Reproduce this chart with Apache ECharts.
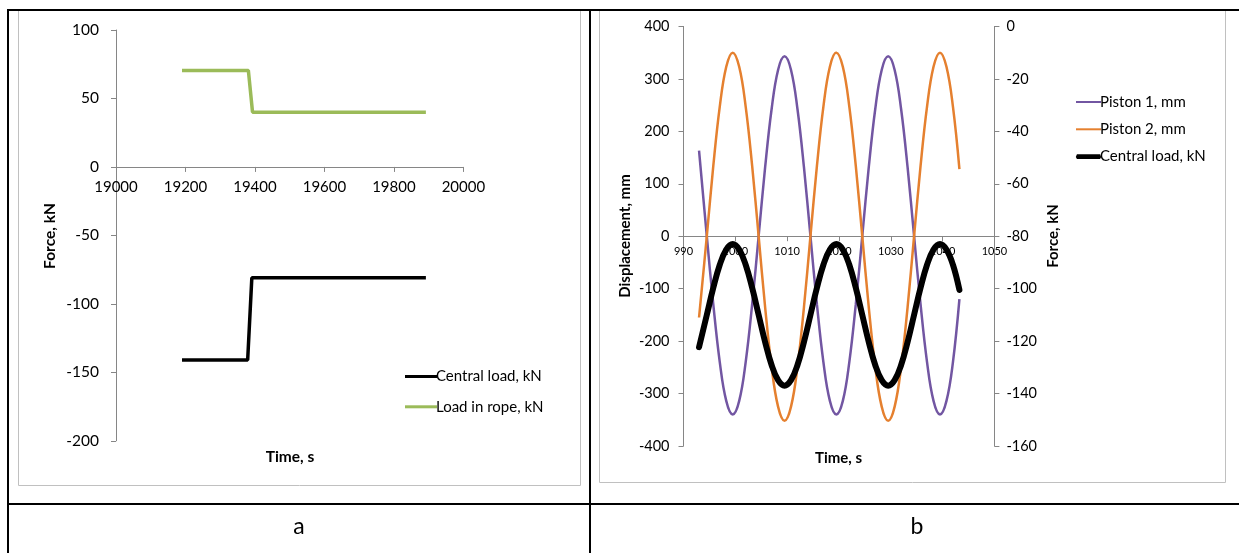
<!DOCTYPE html>
<html><head><meta charset="utf-8">
<script src="https://cdn.jsdelivr.net/npm/echarts@6/dist/echarts.min.js"></script>
<style>html,body{margin:0;padding:0;background:#fff;}#c{width:1239px;height:553px;}</style>
</head><body><div id="c"></div>
<script>
// ---- Panel a data ----
const ropeTime = [19190, 19381, 19393, 19892];
const ropeLoad = [70.5, 70.5, 40, 40];
const centralTimeA = [19190, 19379, 19391, 19892];
const centralLoadA = [-141, -141, -81, -81];

// ---- Panel b data ----
const bTime = [993, 994.5, 995.75, 997, 998.25, 999.5, 1000.75, 1002, 1003.25, 1004.5, 1005.75, 1007, 1008.25, 1009.5, 1010.75, 1012,
  1013.25, 1014.5, 1015.75, 1017, 1018.25, 1019.5, 1020.75, 1022, 1023.25, 1024.5, 1025.75, 1027, 1028.25, 1029.5, 1030.75, 1032,
  1033.25, 1034.5, 1035.75, 1037, 1038.25, 1039.5, 1040.75, 1042, 1043.25];
const piston1 = [163, 0, -130, -240, -314, -340, -314, -240, -130, 0, 131, 242, 317, 343, 317, 242, 131,
  0, -130, -240, -314, -340, -314, -240, -130, 0, 131, 242, 317, 343, 317, 242, 131,
  0, -130, -240, -314, -340, -314, -240, -120];
const piston2 = [-155, 0, 134, 247, 323, 350, 323, 247, 134, 0, -135, -249, -325, -352, -325, -249, -135,
  0, 134, 247, 323, 350, 323, 247, 134, 0, -135, -249, -325, -352, -325, -249, -135,
  0, 134, 247, 323, 350, 323, 247, 128];
const centralLoadB = [-122.3, -110, -99.7, -90.9, -85.1, -83, -85.1, -90.9, -99.7, -110, -120.3, -129.1, -134.9, -137, -134.9, -129.1, -120.3,
  -110, -99.7, -90.9, -85.1, -83, -85.1, -90.9, -99.7, -110, -120.3, -129.1, -134.9, -137, -134.9, -129.1, -120.3,
  -110, -99.7, -90.9, -85.1, -83, -85.1, -90.9, -100.5];

const zip = (xs, ys) => xs.map((x, i) => [x, ys[i]]);
const FONT = 'Lato';
const axisGray = '#868686';
const plain = v => String(v);

const chart = echarts.init(document.getElementById('c'), null, {renderer: 'canvas'});

const blackLine = (x1, y1, x2, y2) => ({type: 'line', shape: {x1, y1, x2, y2}, style: {stroke: '#000', lineWidth: 2}, z: 100});

// grid geometry
const gA = {left: 116, top: 30, width: 347.4, height: 410.8};
const gB = {left: 683.5, top: 26.4, width: 310.9, height: 419.6};

const option = {
  animation: false,
  textStyle: {fontFamily: FONT},
  grid: [
    Object.assign({containLabel: false}, gA),
    Object.assign({containLabel: false}, gB)
  ],
  xAxis: [
    {type: 'value', gridIndex: 0, min: 19000, max: 20000, interval: 200, position: 'bottom',
      offset: -(gA.height * 200 / 300),
      axisLine: {onZero: false, lineStyle: {color: axisGray}},
      axisTick: {show: true, length: 5, lineStyle: {color: axisGray}},
      axisLabel: {color: '#000', fontSize: 15, fontFamily: FONT, margin: 13, formatter: plain},
      splitLine: {show: false}},
    {type: 'value', gridIndex: 1, min: 990, max: 1050, interval: 10, position: 'bottom',
      offset: -(gB.height / 2),
      axisLine: {onZero: false, lineStyle: {color: axisGray}},
      axisTick: {show: true, length: 5, lineStyle: {color: axisGray}},
      axisLabel: {color: '#000', fontSize: 11, fontFamily: FONT, margin: 10, formatter: plain},
      splitLine: {show: false}}
  ],
  yAxis: [
    {type: 'value', gridIndex: 0, min: -200, max: 100, interval: 50,
      axisLine: {show: true, onZero: false, lineStyle: {color: axisGray}},
      axisTick: {show: true, length: 5, lineStyle: {color: axisGray}},
      axisLabel: {color: '#000', fontSize: 15.5, fontFamily: FONT, margin: 17, formatter: plain},
      splitLine: {show: false}},
    {type: 'value', gridIndex: 1, min: -400, max: 400, interval: 100, position: 'left',
      axisLine: {show: true, onZero: false, lineStyle: {color: axisGray}},
      axisTick: {show: true, length: 5, lineStyle: {color: axisGray}},
      axisLabel: {color: '#000', fontSize: 14.5, fontFamily: FONT, margin: 14, formatter: plain},
      splitLine: {show: false}},
    {type: 'value', gridIndex: 1, min: -160, max: 0, interval: 20, position: 'right',
      axisLine: {show: true, onZero: false, lineStyle: {color: axisGray}},
      axisTick: {show: true, length: 5, lineStyle: {color: axisGray}},
      axisLabel: {color: '#000', fontSize: 14.5, fontFamily: FONT, margin: 12, formatter: plain},
      splitLine: {show: false}}
  ],
  legend: [
    {orient: 'vertical', left: 400, top: 364, itemWidth: 32, itemHeight: 14, itemGap: 15.3,
      data: ['Central load, kN', 'Load in rope, kN'],
      textStyle: {fontFamily: FONT, fontSize: 15, color: '#000', padding: [0, 0, 0, -6]},
      icon: 'path://M0,6 L32,6 L32,9 L0,9 Z'},
    {orient: 'vertical', left: 1071, top: 89.5, itemWidth: 25, itemHeight: 14, itemGap: 12.3,
      data: [
        {name: 'Piston 1, mm', icon: 'path://M0,6.8 L25,6.8 L25,8.8 L0,8.8 Z'},
        {name: 'Piston 2, mm', icon: 'path://M0,6.8 L25,6.8 L25,8.8 L0,8.8 Z'},
        {name: 'Central load, kN ', icon: 'path://M0,5 L25,5 Q27,7.5 25,10 L0,10 Q-2,7.5 0,5 Z'}
      ],
      textStyle: {fontFamily: FONT, fontSize: 15, color: '#000', padding: [0, 0, 0, -6]}}
  ],
  series: [
    {name: 'Central load, kN', type: 'line', xAxisIndex: 0, yAxisIndex: 0, data: zip(centralTimeA, centralLoadA),
      showSymbol: false, symbol: 'none', color: '#000', lineStyle: {width: 3.5, color: '#000'}},
    {name: 'Load in rope, kN', type: 'line', xAxisIndex: 0, yAxisIndex: 0, data: zip(ropeTime, ropeLoad),
      showSymbol: false, symbol: 'none', color: '#9BBB59', lineStyle: {width: 3.5, color: '#9BBB59'}},
    {name: 'Piston 1, mm', type: 'line', xAxisIndex: 1, yAxisIndex: 1, data: zip(bTime, piston1), smooth: 0.4,
      showSymbol: false, symbol: 'none', color: '#7256A2', lineStyle: {width: 2.5, color: '#7256A2'}},
    {name: 'Piston 2, mm', type: 'line', xAxisIndex: 1, yAxisIndex: 1, data: zip(bTime, piston2), smooth: 0.4,
      showSymbol: false, symbol: 'none', color: '#E5802F', lineStyle: {width: 2.5, color: '#E5802F'}},
    {name: 'Central load, kN ', type: 'line', xAxisIndex: 1, yAxisIndex: 2, data: zip(bTime, centralLoadB), smooth: 0.4,
      showSymbol: false, symbol: 'none', color: '#000', lineStyle: {width: 6, color: '#000', cap: 'round'}}
  ],
  graphic: [
    {type: 'rect', shape: {x: 18.5, y: 10.5, width: 562, height: 475}, style: {fill: 'none', stroke: '#C0C0C0', lineWidth: 1}, z: -10},
    {type: 'rect', shape: {x: 599.5, y: 10.5, width: 626, height: 472}, style: {fill: 'none', stroke: '#C0C0C0', lineWidth: 1}, z: -10},
    blackLine(8, 10, 1239, 10),
    blackLine(8, 9, 8, 553),
    blackLine(590, 9, 590, 553),
    blackLine(8, 504, 1239, 504),
    {type: 'text', x: 50, y: 236, rotation: Math.PI / 2, style: {text: 'Force, kN', font: 'bold 15.5px Lato', fill: '#000', textAlign: 'center', textVerticalAlign: 'middle'}},
    {type: 'text', x: 290, y: 456.6, style: {text: 'Time, s', font: 'bold 15.5px Lato', fill: '#000', textAlign: 'center', textVerticalAlign: 'middle'}},
    {type: 'text', x: 625, y: 236, rotation: Math.PI / 2, style: {text: 'Displacement, mm', font: 'bold 15px Lato', fill: '#000', textAlign: 'center', textVerticalAlign: 'middle'}},
    {type: 'text', x: 1053.6, y: 236, rotation: Math.PI / 2, style: {text: 'Force, kN', font: 'bold 15px Lato', fill: '#000', textAlign: 'center', textVerticalAlign: 'middle'}},
    {type: 'text', x: 838.5, y: 458, style: {text: 'Time, s', font: 'bold 15px Lato', fill: '#000', textAlign: 'center', textVerticalAlign: 'middle'}},
    {type: 'text', x: 299, y: 527, style: {text: 'a', font: '23px Lato', fill: '#000', textAlign: 'center', textVerticalAlign: 'middle'}},
    {type: 'text', x: 917, y: 527, style: {text: 'b', font: '23px Lato', fill: '#000', textAlign: 'center', textVerticalAlign: 'middle'}}
  ]
};
chart.setOption(option);
</script></body></html>
